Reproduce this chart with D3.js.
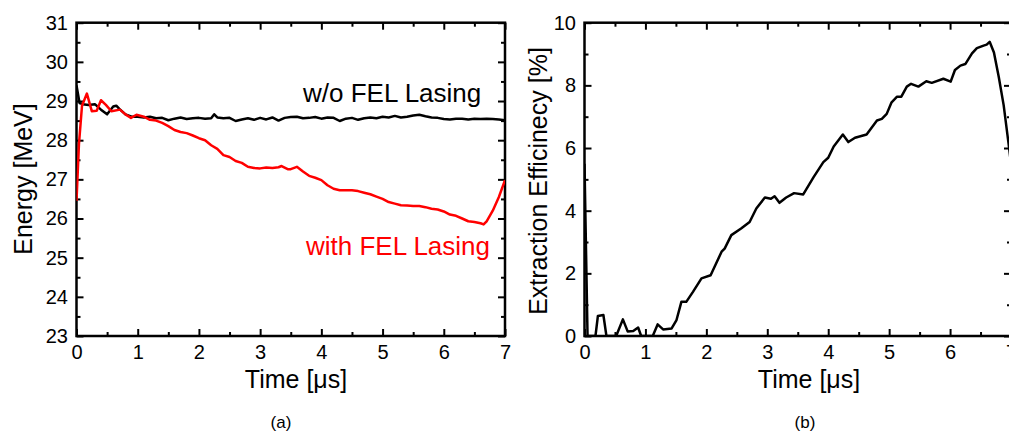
<!DOCTYPE html>
<html>
<head>
<meta charset="utf-8">
<script src="https://cdn.jsdelivr.net/npm/d3@7"></script>
<style>
  html, body { margin: 0; padding: 0; background: #fff; }
  svg { display: block; font-family: "Liberation Sans", Arial, sans-serif; }
  .tick text { font-size: 20px; fill: #000; }
</style>
</head>
<body>
<svg id="fig" width="1009" height="436"></svg>
<script>
// Beam energy versus time, (a)
const energyTimeNoLasing = [0, 0.05, 0.1, 0.2, 0.3, 0.4, 0.5, 0.6, 0.65, 0.7, 0.8, 0.9, 1.0, 1.1, 1.2, 1.3, 1.4, 1.5, 1.6, 1.7, 1.8, 1.9, 2.0, 2.1, 2.2, 2.25, 2.3, 2.4, 2.5, 2.6, 2.7, 2.8, 2.9, 3.0, 3.1, 3.2, 3.3, 3.4, 3.5, 3.6, 3.7, 3.8, 3.9, 4.0, 4.1, 4.2, 4.3, 4.4, 4.5, 4.6, 4.7, 4.8, 4.9, 5.0, 5.1, 5.2, 5.3, 5.4, 5.5, 5.6, 5.7, 5.8, 5.9, 6.0, 6.1, 6.2, 6.3, 6.4, 6.5, 6.6, 6.7, 6.8, 6.9, 7.0];
const energyNoLasing = [29.40, 28.95, 28.92, 28.90, 28.92, 28.78, 28.66, 28.86, 28.88, 28.80, 28.66, 28.60, 28.60, 28.58, 28.60, 28.56, 28.57, 28.51, 28.55, 28.58, 28.54, 28.56, 28.57, 28.55, 28.56, 28.66, 28.58, 28.56, 28.57, 28.49, 28.53, 28.56, 28.52, 28.57, 28.53, 28.58, 28.50, 28.57, 28.59, 28.60, 28.56, 28.57, 28.59, 28.55, 28.58, 28.57, 28.49, 28.55, 28.57, 28.52, 28.56, 28.58, 28.56, 28.60, 28.58, 28.62, 28.58, 28.60, 28.63, 28.65, 28.61, 28.58, 28.57, 28.54, 28.53, 28.55, 28.55, 28.53, 28.55, 28.54, 28.55, 28.54, 28.53, 28.51];

const energyTimeLasing = [0, 0.04, 0.09, 0.17, 0.25, 0.33, 0.4, 0.48, 0.57, 0.71, 0.8, 0.89, 0.98, 1.1, 1.2, 1.3, 1.4, 1.5, 1.6, 1.7, 1.8, 1.9, 2.0, 2.1, 2.2, 2.3, 2.4, 2.5, 2.6, 2.7, 2.8, 2.9, 3.0, 3.1, 3.2, 3.3, 3.35, 3.45, 3.5, 3.6, 3.7, 3.8, 3.9, 4.0, 4.1, 4.2, 4.3, 4.4, 4.5, 4.6, 4.7, 4.8, 4.9, 5.0, 5.1, 5.2, 5.3, 5.4, 5.5, 5.6, 5.7, 5.8, 5.9, 6.0, 6.1, 6.2, 6.3, 6.4, 6.5, 6.6, 6.65, 6.7, 6.8, 6.9, 7.0];
const energyLasing = [26.45, 27.90, 28.88, 29.19, 28.74, 28.75, 29.02, 28.90, 28.74, 28.78, 28.66, 28.57, 28.65, 28.60, 28.52, 28.50, 28.44, 28.36, 28.26, 28.21, 28.18, 28.12, 28.05, 28.00, 27.87, 27.78, 27.62, 27.57, 27.47, 27.42, 27.32, 27.29, 27.28, 27.30, 27.29, 27.31, 27.34, 27.26, 27.26, 27.32, 27.20, 27.09, 27.04, 26.98, 26.85, 26.76, 26.72, 26.72, 26.72, 26.70, 26.66, 26.62, 26.56, 26.50, 26.42, 26.38, 26.34, 26.33, 26.32, 26.32, 26.29, 26.25, 26.23, 26.18, 26.10, 26.07, 26.00, 25.93, 25.91, 25.88, 25.85, 25.93, 26.20, 26.55, 26.98];

// Extraction efficiency versus time, (b)
const effTime = [0, 0.05, 0.18, 0.22, 0.31, 0.36, 0.52, 0.63, 0.71, 0.8, 0.88, 0.93, 1.12, 1.2, 1.29, 1.43, 1.51, 1.59, 1.67, 1.78, 1.92, 2.07, 2.25, 2.3, 2.41, 2.57, 2.71, 2.82, 2.96, 3.06, 3.12, 3.2, 3.31, 3.44, 3.59, 3.76, 3.92, 4.0, 4.09, 4.24, 4.33, 4.44, 4.63, 4.8, 4.88, 4.96, 5.04, 5.13, 5.2, 5.29, 5.36, 5.48, 5.61, 5.7, 5.89, 6.01, 6.08, 6.17, 6.25, 6.36, 6.44, 6.55, 6.6, 6.65, 6.72, 6.8, 6.88, 6.96, 7.0];
const effValue = [5.5, 0, 0, 0.64, 0.67, 0, 0, 0.53, 0.14, 0.16, 0.27, 0, 0, 0.37, 0.21, 0.24, 0.51, 1.09, 1.09, 1.41, 1.84, 1.94, 2.69, 2.79, 3.22, 3.43, 3.64, 4.07, 4.42, 4.38, 4.46, 4.25, 4.42, 4.56, 4.52, 5.07, 5.55, 5.69, 6.05, 6.43, 6.19, 6.33, 6.43, 6.88, 6.93, 7.09, 7.46, 7.64, 7.64, 7.96, 8.05, 7.96, 8.13, 8.08, 8.21, 8.12, 8.49, 8.63, 8.68, 9.02, 9.19, 9.27, 9.30, 9.39, 9.05, 8.26, 7.36, 6.14, 5.5];

// Axis settings
const timeDomain = [0, 7];
const timeMajor = [0, 1, 2, 3, 4, 5, 6, 7];
const timeMinor = [0.5, 1.5, 2.5, 3.5, 4.5, 5.5, 6.5];
const energyDomain = [23, 31];
const energyMajor = [23, 24, 25, 26, 27, 28, 29, 30, 31];
const energyMinor = [23.5, 24.5, 25.5, 26.5, 27.5, 28.5, 29.5, 30.5];
const effDomain = [0, 10];
const effMajor = [0, 2, 4, 6, 8, 10];
const effMinor = [1, 3, 5, 7, 9];

const svg = d3.select("#fig");
const MAJOR = 7, MINOR = 4;

function panel(id, box, yDomain, yMajor, yMinor) {
  const x = d3.scaleLinear().domain(timeDomain).range([box.left, box.right]);
  const y = d3.scaleLinear().domain(yDomain).range([box.bottom, box.top]);
  const g = svg.append("g").attr("class", id);

  g.append("clipPath").attr("id", id + "-clip")
    .append("rect")
    .attr("x", box.left).attr("y", box.top)
    .attr("width", box.right - box.left).attr("height", box.bottom - box.top);

  const axes = g.append("g");
  const tickStyle = sel => {
    sel.select(".domain").remove();
    sel.selectAll(".tick line").attr("stroke", "#000").attr("stroke-width", 2);
  };
  // labelled major ticks
  axes.append("g").attr("transform", `translate(0,${box.bottom})`)
    .call(d3.axisBottom(x).tickValues(timeMajor).tickSize(-MAJOR).tickPadding(9).tickFormat(d3.format("d")))
    .call(tickStyle);
  axes.append("g").attr("transform", `translate(${box.left},0)`)
    .call(d3.axisLeft(y).tickValues(yMajor).tickSize(-MAJOR).tickPadding(8.5).tickFormat(d3.format("d")))
    .call(tickStyle);
  // mirrored and minor ticks
  const bare = [
    [d3.axisBottom(x).tickValues(timeMinor).tickSize(-MINOR), `translate(0,${box.bottom})`],
    [d3.axisTop(x).tickValues(timeMajor).tickSize(-MAJOR), `translate(0,${box.top})`],
    [d3.axisTop(x).tickValues(timeMinor).tickSize(-MINOR), `translate(0,${box.top})`],
    [d3.axisLeft(y).tickValues(yMinor).tickSize(-MINOR), `translate(${box.left},0)`],
    [d3.axisRight(y).tickValues(yMajor).tickSize(-MAJOR), `translate(${box.right},0)`],
    [d3.axisRight(y).tickValues(yMinor).tickSize(-MINOR), `translate(${box.right},0)`]
  ];
  bare.forEach(([ax, tr]) => {
    axes.append("g").attr("transform", tr).call(ax.tickFormat("")).call(tickStyle);
  });

  g.append("rect")
    .attr("x", box.left).attr("y", box.top)
    .attr("width", box.right - box.left).attr("height", box.bottom - box.top)
    .attr("fill", "none").attr("stroke", "#000").attr("stroke-width", 2.5);

  return { x, y, g, clip: `url(#${id}-clip)` };
}

function curve(p, xs, ys, color) {
  const pts = xs.map((t, i) => [t, ys[i]]);
  p.g.append("path")
    .datum(pts)
    .attr("clip-path", p.clip)
    .attr("fill", "none")
    .attr("stroke", color)
    .attr("stroke-width", 2.5)
    .attr("stroke-linejoin", "round")
    .attr("d", d3.line().x(d => p.x(d[0])).y(d => p.y(d[1])));
}

function label(txt, x, y, opts = {}) {
  const t = svg.append("text")
    .attr("x", x).attr("y", y)
    .attr("font-size", opts.size || 25)
    .attr("fill", opts.color || "#000")
    .attr("text-anchor", opts.anchor || "middle")
    .text(txt);
  if (opts.rotate) t.attr("transform", `rotate(-90,${x},${y})`);
  return t;
}

// (a) energy
const pa = panel("energy", { left: 76.5, right: 505, top: 22.7, bottom: 336 }, energyDomain, energyMajor, energyMinor);
curve(pa, energyTimeNoLasing, energyNoLasing, "#000");
curve(pa, energyTimeLasing, energyLasing, "#ff0000");
label("w/o FEL Lasing", 303, 102, { anchor: "start", size: 26 });
label("with FEL Lasing", 306, 255, { anchor: "start", color: "#ff0000", size: 26 });
label("Time [\u03bcs]", 296, 388);
label("Energy [MeV]", 31.5, 179, { rotate: true });
label("(a)", 281, 428, { size: 17 });

// (b) extraction efficiency; its frame runs just past the right edge
const pb = panel("eff", { left: 584.5, right: 1011, top: 22.7, bottom: 336 }, effDomain, effMajor, effMinor);
curve(pb, effTime, effValue, "#000");
label("Time [\u03bcs]", 809, 388);
label("Extraction Efficinecy [%]", 546.5, 181, { rotate: true });
label("(b)", 805, 428, { size: 17 });
</script>
</body>
</html>
